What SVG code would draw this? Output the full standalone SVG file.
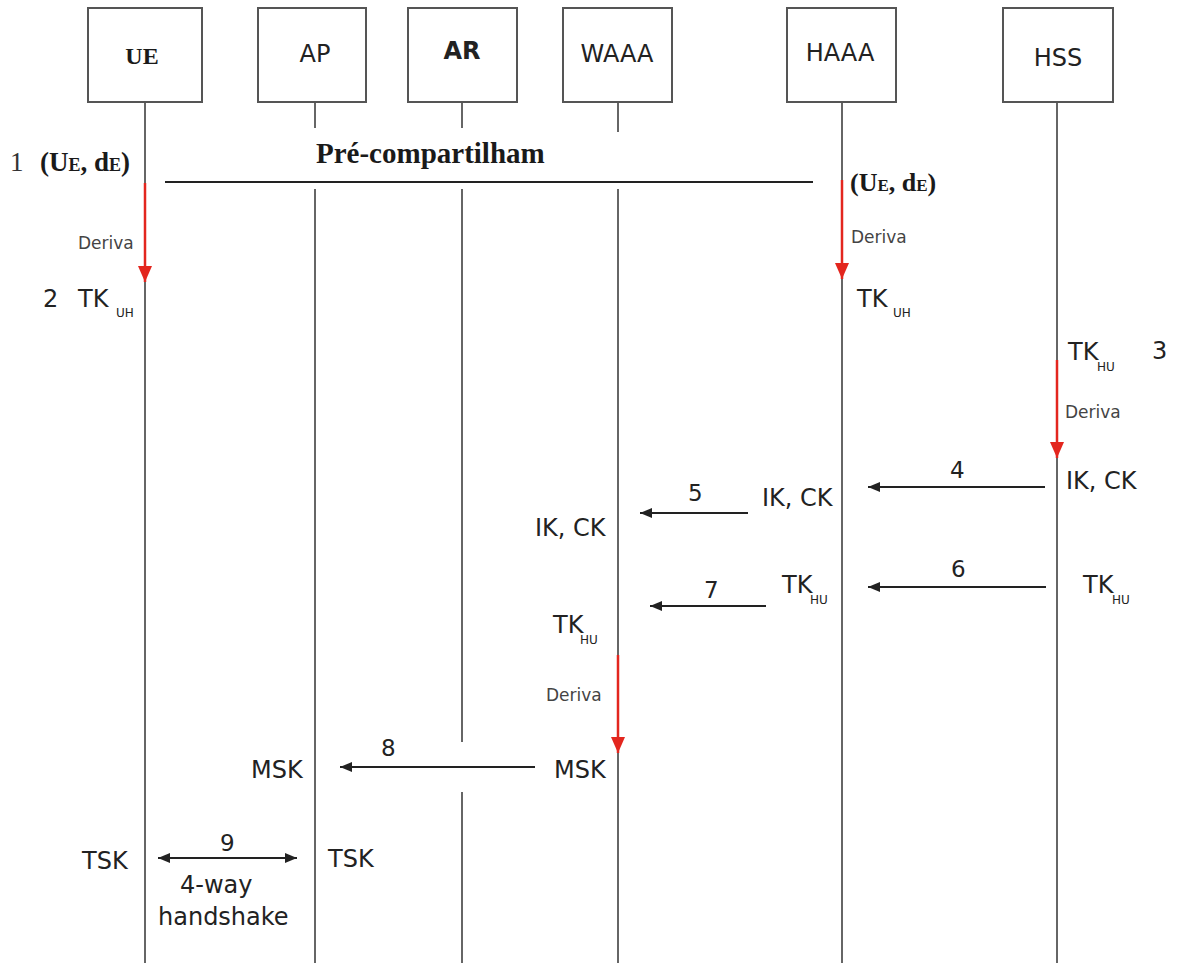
<svg xmlns="http://www.w3.org/2000/svg" width="1178" height="963" viewBox="0 0 1178 963">
<style>
.box{fill:#fff;stroke:#555;stroke-width:2}
.life{stroke:#666;stroke-width:2;fill:none}
.msg{stroke:#222;stroke-width:2;fill:none}
.red{stroke:#e3261e;stroke-width:2.5;fill:none}
.t{font-family:"DejaVu Sans",sans-serif;font-size:24px;fill:#222}
.sub{font-family:"DejaVu Sans",sans-serif;font-size:12px;fill:#222}
.num{font-family:"DejaVu Sans",sans-serif;font-size:23px;fill:#222}
.der{font-family:"DejaVu Sans",sans-serif;font-size:17px;fill:#444}
.ser{font-family:"Liberation Serif",serif;font-weight:bold;fill:#1a1a1a}
.serr{font-family:"Liberation Serif",serif;font-weight:normal;fill:#333}
</style>
<defs>
<marker id="ah" viewBox="0 0 12 10" refX="12" refY="5" markerWidth="12" markerHeight="10" markerUnits="userSpaceOnUse" orient="auto-start-reverse">
<path d="M0,0 L12,5 L0,10 z" fill="#222"/>
</marker>
<marker id="rh" viewBox="0 0 16 14" refX="16" refY="7" markerWidth="16" markerHeight="14" markerUnits="userSpaceOnUse" orient="auto">
<path d="M0,0 L16,7 L0,14 z" fill="#e3261e"/>
</marker>
</defs>
<rect width="1178" height="963" fill="#fff"/>

<g id="lifelines">
<line class="life" x1="145" y1="102" x2="145" y2="963"/>
<line class="life" x1="315" y1="102" x2="315" y2="128"/>
<line class="life" x1="315" y1="189" x2="315" y2="963"/>
<line class="life" x1="462" y1="102" x2="462" y2="128"/>
<line class="life" x1="462" y1="189" x2="462" y2="742"/>
<line class="life" x1="462" y1="792" x2="462" y2="963"/>
<line class="life" x1="618" y1="102" x2="618" y2="132"/>
<line class="life" x1="618" y1="189" x2="618" y2="963"/>
<line class="life" x1="842" y1="102" x2="842" y2="963"/>
<line class="life" x1="1057" y1="102" x2="1057" y2="963"/>
</g>

<g id="UE"><rect class="box" x="88" y="8" width="114" height="94"/><text class="ser" x="142" y="64" font-size="24" text-anchor="middle">UE</text></g>
<g id="AP"><rect class="box" x="258" y="8" width="108" height="94"/><text class="t" x="315" y="62" text-anchor="middle">AP</text></g>
<g id="AR"><rect class="box" x="408" y="8" width="109" height="94"/><text class="t" x="462" y="59" text-anchor="middle" font-weight="bold" font-size="22">AR</text></g>
<g id="WAAA"><rect class="box" x="563" y="8" width="109" height="94"/><text class="t" x="617" y="62" text-anchor="middle">WAAA</text></g>
<g id="HAAA"><rect class="box" x="787" y="8" width="109" height="94"/><text class="t" x="840" y="61" text-anchor="middle">HAAA</text></g>
<g id="HSS"><rect class="box" x="1003" y="8" width="110" height="94"/><text class="t" x="1058" y="66" text-anchor="middle" font-size="30">HSS</text></g>

<g id="connectors">
<line class="msg" x1="165" y1="182" x2="813" y2="182"/>
<line class="red" x1="145" y1="183" x2="145" y2="282" marker-end="url(#rh)"/>
<line class="red" x1="842" y1="180" x2="842" y2="279" marker-end="url(#rh)"/>
<line class="red" x1="1057" y1="360" x2="1057" y2="458" marker-end="url(#rh)"/>
<line class="red" x1="618" y1="655" x2="618" y2="753" marker-end="url(#rh)"/>
<line class="msg" x1="1045" y1="487" x2="868" y2="487" marker-end="url(#ah)"/>
<line class="msg" x1="748" y1="513" x2="640" y2="513" marker-end="url(#ah)"/>
<line class="msg" x1="1046" y1="587" x2="868" y2="587" marker-end="url(#ah)"/>
<line class="msg" x1="766" y1="606" x2="650" y2="606" marker-end="url(#ah)"/>
<line class="msg" x1="535" y1="767" x2="340" y2="767" marker-end="url(#ah)"/>
<line class="msg" x1="158" y1="858" x2="297" y2="858" marker-start="url(#ah)" marker-end="url(#ah)"/>
</g>

<g id="labels">
<text class="serr" x="10" y="171" font-size="27">1</text>
<text class="ser" x="40" y="171" font-size="27">(U<tspan font-size="18">E</tspan>, d<tspan font-size="18">E</tspan>)</text>
<text class="ser" x="316" y="163" font-size="29">Pré-compartilham</text>
<text class="ser" x="850" y="191" font-size="26">(U<tspan font-size="17">E</tspan>, d<tspan font-size="17">E</tspan>)</text>

<text class="der" x="78" y="249">Deriva</text>
<text class="der" x="851" y="243">Deriva</text>
<text class="der" x="1065" y="418">Deriva</text>
<text class="der" x="546" y="701">Deriva</text>

<text class="t" x="43" y="307">2</text>
<text class="t" x="78" y="307">TK</text><text class="sub" x="116" y="317">UH</text>
<text class="t" x="857" y="307">TK</text><text class="sub" x="893" y="317">UH</text>
<text class="t" x="1068" y="360">TK</text><text class="sub" x="1097" y="371" font-size="11">HU</text>
<text class="t" x="1152" y="359">3</text>

<text class="num" x="950" y="478">4</text>
<text class="t" x="1066" y="489">IK, CK</text>
<text class="num" x="688" y="501">5</text>
<text class="t" x="762" y="506">IK, CK</text>
<text class="t" x="535" y="536">IK, CK</text>

<text class="num" x="951" y="577">6</text>
<text class="t" x="1083" y="593">TK</text><text class="sub" x="1112" y="604" font-size="11">HU</text>
<text class="t" x="782" y="593">TK</text><text class="sub" x="810" y="604" font-size="11">HU</text>
<text class="num" x="704" y="598">7</text>
<text class="t" x="553" y="633">TK</text><text class="sub" x="580" y="644" font-size="11">HU</text>

<text class="num" x="381" y="756">8</text>
<text class="t" x="251" y="778">MSK</text>
<text class="t" x="554" y="778">MSK</text>

<text class="num" x="220" y="851">9</text>
<text class="t" x="82" y="869">TSK</text>
<text class="t" x="328" y="867">TSK</text>
<text class="t" x="180" y="893">4-way</text>
<text class="t" x="158" y="925">handshake</text>
</g>
</svg>
